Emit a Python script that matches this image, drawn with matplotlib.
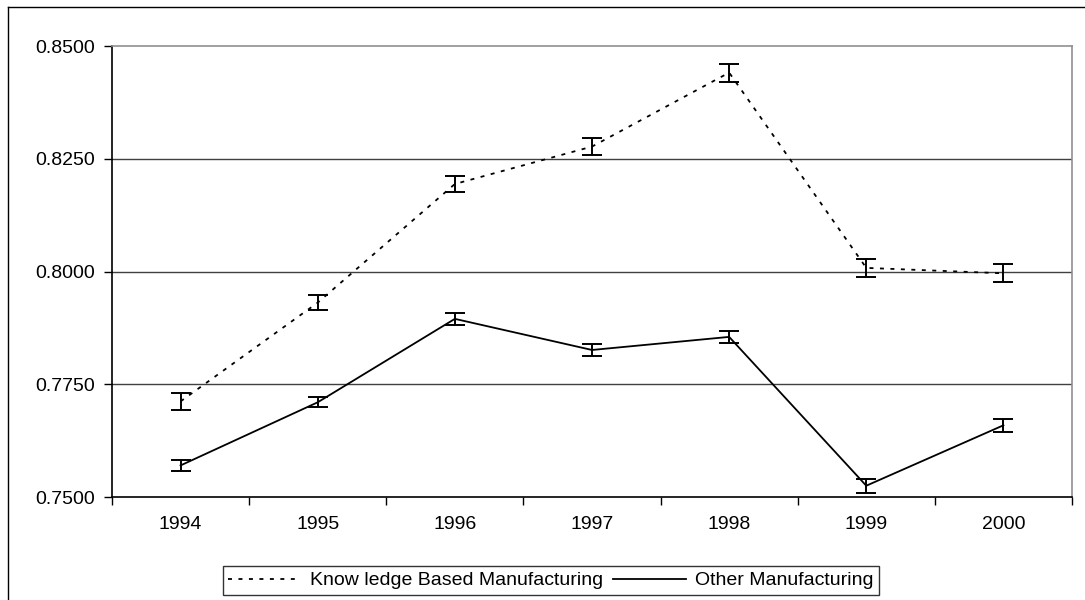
import matplotlib
matplotlib.use("Agg")
import matplotlib.pyplot as plt
from matplotlib.lines import Line2D
from matplotlib.ticker import FixedLocator, FormatStrFormatter

plt.rcParams['font.family'] = ['Liberation Sans', 'DejaVu Sans']

years = ["1994", "1995", "1996", "1997", "1998", "1999", "2000"]
kbm = [0.7712, 0.7931, 0.8194, 0.8277, 0.8441, 0.8008, 0.7996]
kbm_err = [0.0018, 0.0017, 0.0018, 0.0018, 0.0020, 0.0020, 0.0020]
other = [0.7570, 0.7710, 0.7895, 0.7826, 0.7855, 0.7525, 0.7659]
other_err = [0.0012, 0.0011, 0.0014, 0.0013, 0.0014, 0.0016, 0.0014]
yticks = [0.75, 0.775, 0.80, 0.825, 0.85]
labels = ['Know ledge Based Manufacturing', 'Other Manufacturing']

dot_style = (0, (2.2, 3.6))

fig = plt.figure(figsize=(10.85, 6.0), dpi=100)
ax = fig.add_axes([112/1085, 1 - 497/600, (1072-112)/1085, (497-46)/600])

x = list(range(len(years)))
ax.errorbar(x, kbm, yerr=kbm_err, color='black', lw=1.3, ls=dot_style,
            capsize=7, capthick=1.4, elinewidth=1.4)
ax.errorbar(x, other, yerr=other_err, color='black', lw=1.3, ls='-',
            capsize=7, capthick=1.4, elinewidth=1.4)

ax.set_xlim(-0.5, len(years) - 0.5)
ax.set_ylim(0.75, 0.85)
ax.yaxis.set_major_locator(FixedLocator(yticks))
ax.yaxis.set_major_formatter(FormatStrFormatter('%.4f'))
for y in yticks[1:4]:
    ax.axhline(y, color='#404040', lw=1.0, zorder=0)

ax.set_xticks([i + 0.5 for i in range(-1, len(years))])
ax.set_xticklabels([])
ax.set_xticks(x, minor=True)
ax.set_xticklabels(years, minor=True)
ax.tick_params(axis='x', which='major', direction='out', length=6, width=1, color='black')
ax.tick_params(axis='x', which='minor', length=0, pad=14, labelsize=14)
ax.tick_params(axis='y', direction='out', length=6, width=1, labelsize=14, pad=6)

ax.spines['left'].set_color('black')
ax.spines['bottom'].set_color('black')
ax.spines['top'].set_color('#909090')
ax.spines['right'].set_color('#909090')
for s in ax.spines.values():
    s.set_linewidth(1.2)

h1 = Line2D([], [], color='black', lw=1.3, ls=dot_style)
h2 = Line2D([], [], color='black', lw=1.3, ls='-')
leg = fig.legend(handles=[h1, h2], labels=labels,
                 loc='center', bbox_to_anchor=(551/1085, 1 - 580.5/600), ncol=2,
                 fontsize=14, frameon=True, fancybox=False, edgecolor='black',
                 handlelength=3.75, handletextpad=0.46, columnspacing=0.5,
                 borderpad=0.3, borderaxespad=0)
leg.get_frame().set_linewidth(1.0)

# outer chart border (left and top visible)
fig.add_artist(Line2D([8/1085, 8/1085], [0, 1 - 7/600], transform=fig.transFigure,
                      color='black', lw=1.0))
fig.add_artist(Line2D([8/1085, 1], [1 - 7/600, 1 - 7/600], transform=fig.transFigure,
                      color='black', lw=1.0))

fig.savefig('out.png', dpi=100)
